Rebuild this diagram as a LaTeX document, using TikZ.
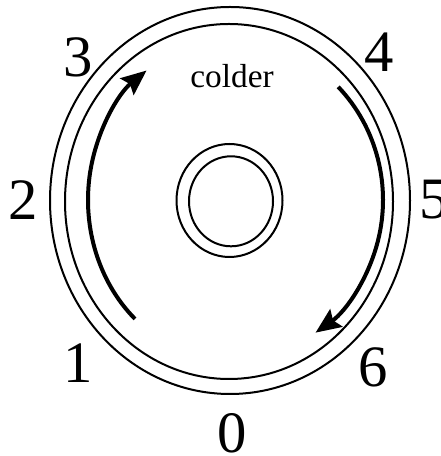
\documentclass[tikz,border=0pt]{standalone}
\usepackage{fontspec}
\setmainfont{Liberation Serif}
\usetikzlibrary{arrows.meta}
\begin{document}
\begin{tikzpicture}[x=0.75pt,y=0.75pt,
  ring/.style={line width=1.5pt},
  flow/.style={line width=3pt,-{Stealth[length=19pt,width=16pt,inset=3pt]}},
  num/.style={font=\fontsize{44}{44}\selectfont,inner sep=0pt},
  lab/.style={font=\fontsize{25}{25}\selectfont,inner sep=0pt}]
\useasboundingbox (0,0) rectangle (440,456);
\draw[ring] (230,255.5) ellipse [x radius=180, y radius=193.5];
\draw[ring] (229,254.5) ellipse [x radius=164, y radius=177.5];
\draw[ring] (229.5,255.5) ellipse [x radius=53, y radius=56.5];
\draw[ring] (231,254.7) ellipse [x radius=42, y radius=45];
\draw[flow] (230,256) ++(228:142 and 160) arc[start angle=228, end angle=126, x radius=142, y radius=160];
\draw[flow] (230,256) ++(45:153 and 160) arc[start angle=45, end angle=-56, x radius=153, y radius=160];
\node[num] (n3) at (78,399) {3};
\node[num] (n4) at (379,404) {4};
\node[num] (n2) at (23,256) {2};
\node[num,anchor=west] (n5) at (419,256) {5};
\node[num] (n1) at (78,93) {1};
\node[num] (n6) at (373,89) {6};
\node[num] (n0) at (232,23) {0};
\node[lab] (cold) at (232,380) {colder};
\end{tikzpicture}
\end{document}
